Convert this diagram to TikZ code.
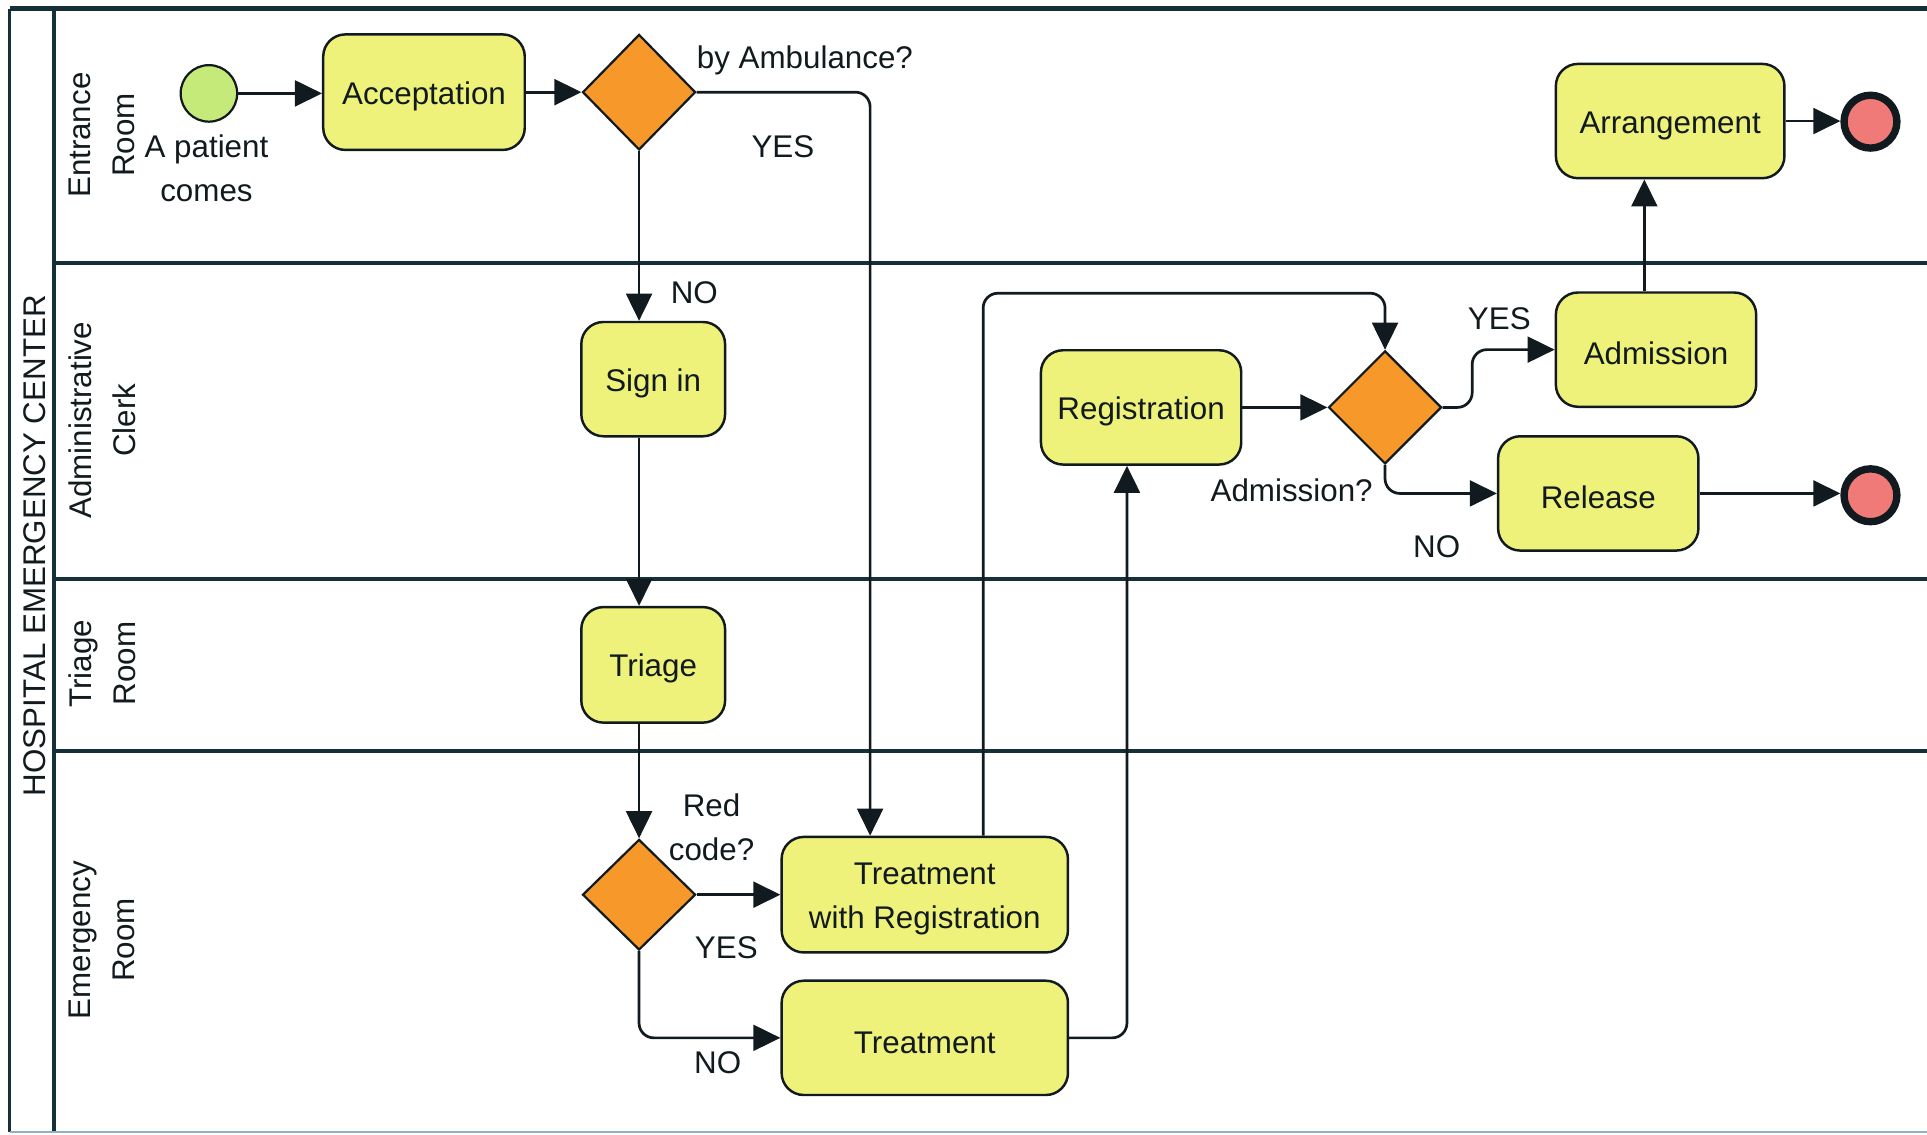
\documentclass[tikz,border=0pt]{standalone}
\usepackage{fontspec}
\setmainfont{Liberation Sans}
\usetikzlibrary{shapes.geometric,arrows.meta,calc}

\definecolor{taskfill}{HTML}{EEF27B}
\definecolor{gatefill}{HTML}{F7982A}
\definecolor{startfill}{HTML}{C5EA7A}
\definecolor{endfill}{HTML}{F07A78}
\definecolor{ink}{HTML}{111A1E}
\definecolor{laneline}{HTML}{16303A}
\definecolor{poolbottom}{HTML}{8DB3BF}

% a tall strut on the first line sets task captions a little below the box centre
\newcommand{\capstrut}{\rule{0pt}{25pt}}

\begin{document}
\begin{tikzpicture}[x=1pt,y=-1pt,
  every node/.style={font=\fontsize{25.5}{36}\selectfont, text=ink},
  task/.style={draw=ink, line width=2pt, fill=taskfill, rounded corners=18pt,
    minimum height=93pt, inner sep=0pt, align=center},
  gateway/.style={draw=ink, line width=1.8pt, fill=gatefill, shape=diamond,
    inner sep=0pt, minimum width=92pt},
  startev/.style={draw=ink, line width=1.8pt, fill=startfill, circle,
    minimum size=46pt, inner sep=0pt},
  endev/.style={draw=ink, line width=6pt, fill=endfill, circle,
    minimum size=43pt, inner sep=0pt},
  flow/.style={draw=ink, line width=2.2pt, rounded corners=12pt,
    -{Triangle[length=22pt,width=21pt]}},
  lbl/.style={inner sep=0pt, align=center},
  lanelabel/.style={inner sep=0pt, align=center, rotate=90},
  poolline/.style={draw=laneline, line width=2.8pt},
]
\useasboundingbox (0,0) rectangle (1568,923);

% pool frame and lanes
\draw[poolline, line width=3.5pt] (8,7) -- (1568,7);
\draw[poolline, line width=2.5pt] (8,7) -- (8,921);
\draw[poolline] (44,7) -- (44,921);
\draw[poolline] (44,214) -- (1568,214);
\draw[poolline] (44,471) -- (1568,471);
\draw[poolline] (44,611) -- (1568,611);
\draw[draw=poolbottom, line width=2pt] (8,921) -- (1568,921);

% pool and lane titles
\node[lanelabel] (pool)   at (28,444)  {HOSPITAL EMERGENCY CENTER};
\node[lanelabel] (laneA)  at (83,110)  {Entrance\\Room};
\node[lanelabel] (laneB)  at (83,342)  {Administrative\\Clerk};
\node[lanelabel] (laneC)  at (83,540)  {Triage\\Room};
\node[lanelabel] (laneD)  at (83,765)  {Emergency\\Room};

% events
\node[startev] (start) at (170,76) {};
\node[endev]   (end1)  at (1522,99) {};
\node[endev]   (end2)  at (1522,403) {};

% activities
\node[task, minimum width=164pt, minimum height=94pt] (acc)    at (345,75)      {\capstrut Acceptation};
\node[task, minimum width=117pt] (signin) at (531.5,308.5) {\capstrut Sign in};
\node[task, minimum width=117pt, minimum height=94pt] (triage) at (531.5,541)   {\capstrut Triage};
\node[task, minimum width=233pt, minimum height=94pt] (twr)    at (752.5,728)   {\capstrut Treatment\\with Registration};
\node[task, minimum width=233pt] (treat)  at (752.5,844.5) {\capstrut Treatment};
\node[task, minimum width=163pt] (reg)    at (928.5,331.5) {\capstrut Registration};
\node[task, minimum width=163pt] (adm)    at (1347.5,284.5) {\capstrut Admission};
\node[task, minimum width=186pt] (arr)    at (1359,98.5)   {\capstrut Arrangement};
\node[task, minimum width=163pt] (rel)    at (1300.5,401.5) {\capstrut Release};

% gateways
\node[gateway, minimum height=94pt] (d1) at (520,75)  {};
\node[gateway, minimum height=90pt] (d2) at (520,728) {};
\node[gateway, minimum height=92pt] (d3) at (1127,331.5) {};

% attachment points off the box centres
\coordinate (twrin)   at ([xshift=-44.5pt]twr.north);
\coordinate (twrout)  at ([xshift=47.5pt]twr.north);
\coordinate (regin)   at ([xshift=-11.5pt]reg.south);
\coordinate (admout)  at ([xshift=-9.5pt]adm.north);
\coordinate (d3above) at ([yshift=46pt]d3.north);

% sequence flows
\draw[flow] (start.east) -- (start.east -| acc.west);
\draw[flow] (acc.east) -- (d1.west);
\draw[flow] (d1.south) -- (d1.south |- signin.north);
\draw[flow] (d1.east) -| (twrin);
\draw[flow] (d1 |- signin.south) -- (d1 |- triage.north);
\draw[flow] (d1 |- triage.south) -- (d2.north);
\draw[flow] (d2.east) -- (d2.east -| twr.west);
\draw[flow] (d2.south) |- (treat.west);
\draw[flow] (twrout) |- (d3above) -- (d3.north);
\draw[flow] (treat.east) -| (regin);
\draw[flow] (reg.east) -- (d3.west);
\draw[flow] (d3.east) -- ++(24,0) |- (adm.west);
\draw[flow] (d3.south) |- (rel.west);
\draw[flow] (admout) -- (admout |- arr.south);
\draw[flow] (arr.east) -- (arr.east -| end1.west);
\draw[flow] (rel.east) -- (rel.east -| end2.west);

% flow and gateway labels
\node[lbl] (lstart) at (168,137)  {A patient\\comes};
\node[lbl] (q1)     at (655,49)   {by Ambulance?};
\node[lbl] (y1)     at (637,119)  {YES};
\node[lbl] (n1)     at (565,238)  {NO};
\node[lbl] (q2)     at (579,673)  {Red\\code?};
\node[lbl] (y2)     at (591,771)  {YES};
\node[lbl] (n2)     at (584,865)  {NO};
\node[lbl] (q3)     at (1051,399) {Admission?};
\node[lbl] (y3)     at (1220,259) {YES};
\node[lbl] (n3)     at (1169,445) {NO};
\end{tikzpicture}
\end{document}
